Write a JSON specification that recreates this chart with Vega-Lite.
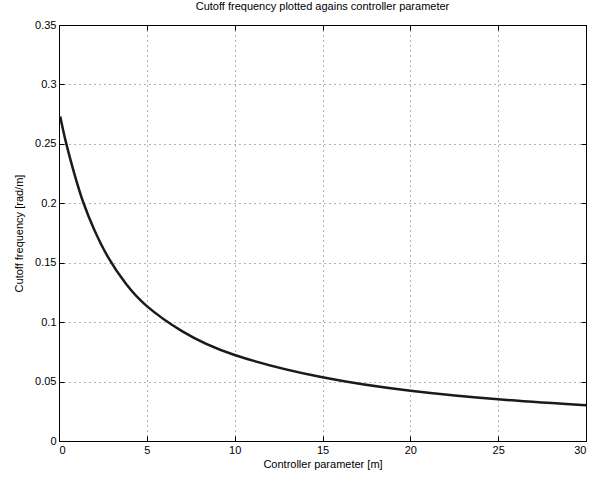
{
  "$schema": "https://vega.github.io/schema/vega-lite/v6.json",
  "autosize": "none",
  "width": 527,
  "height": 416,
  "padding": {"left": 59, "top": 25, "right": 7, "bottom": 40},
  "background": "white",
  "title": {"text": "Cutoff frequency plotted agains controller parameter", "font": "Liberation Sans", "fontSize": 11, "fontWeight": "normal", "color": "#000", "offset": 7},
  "config": {
    "view": {"stroke": "#000", "strokeWidth": 1},
    "axis": {"labelFont": "Liberation Sans", "titleFont": "Liberation Sans", "labelFontSize": 11, "titleFontSize": 11, "titleFontWeight": "normal", "labelColor": "#000", "titleColor": "#000", "domainColor": "#000", "tickColor": "#000", "gridColor": "#666", "gridDash": [1, 4], "gridWidth": 1}
  },
  "data": {"values": [
    {"m": 0.07, "f": 0.273},
    {"m": 0.4, "f": 0.251},
    {"m": 0.9, "f": 0.2235},
    {"m": 1.4, "f": 0.2},
    {"m": 2, "f": 0.178},
    {"m": 2.8, "f": 0.1545},
    {"m": 3.8, "f": 0.1325},
    {"m": 5, "f": 0.1135},
    {"m": 7, "f": 0.0925},
    {"m": 10, "f": 0.0724},
    {"m": 15, "f": 0.0536},
    {"m": 20, "f": 0.0423},
    {"m": 25, "f": 0.0351},
    {"m": 30, "f": 0.03}
  ]},
  "layer": [
    {
      "mark": {"type": "line", "color": "#1a1a1a", "strokeWidth": 2.5, "interpolate": "natural"},
      "encoding": {
        "x": {"field": "m", "type": "quantitative", "scale": {"domain": [0, 30], "nice": false}, "axis": {"orient": "bottom", "title": "Controller parameter [m]", "values": [0, 5, 10, 15, 20, 25, 30], "format": "~g", "grid": true, "tickSize": -5, "labelPadding": 8, "titlePadding": 3, "domain": true}},
        "y": {"field": "f", "type": "quantitative", "scale": {"domain": [0, 0.35], "nice": false}, "axis": {"orient": "left", "title": "Cutoff frequency [rad/m]", "values": [0, 0.05, 0.1, 0.15, 0.2, 0.25, 0.3, 0.35], "format": "~g", "grid": true, "tickSize": -5, "labelPadding": 8, "titlePadding": 10, "domain": true}}
      }
    },
    {
      "mark": {"type": "line", "opacity": 0},
      "encoding": {
        "x": {"field": "m", "type": "quantitative", "scale": {"domain": [0, 30], "nice": false}, "axis": {"orient": "top", "title": null, "labels": false, "values": [0, 5, 10, 15, 20, 25, 30], "grid": false, "tickSize": -5}},
        "y": {"field": "f", "type": "quantitative", "scale": {"domain": [0, 0.35], "nice": false}, "axis": {"orient": "right", "title": null, "labels": false, "values": [0, 0.05, 0.1, 0.15, 0.2, 0.25, 0.3, 0.35], "grid": false, "tickSize": -5}}
      }
    }
  ],
  "resolve": {"axis": {"x": "independent", "y": "independent"}}
}
